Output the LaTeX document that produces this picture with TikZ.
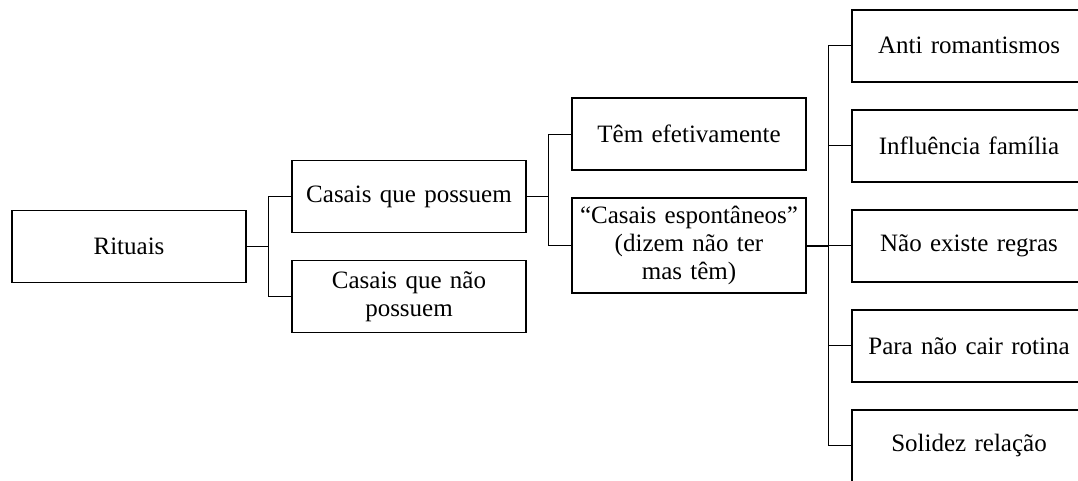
\documentclass[tikz,border=0pt]{standalone}
\usepackage{fontspec}
\setmainfont{Liberation Serif}
\usetikzlibrary{positioning}

\begin{document}
\begin{tikzpicture}[x=1pt,y=1pt,
	grow'=right,
	level/.style={level distance=280pt},
	level 1/.style={sibling distance=100pt},
	level 2/.style={sibling distance=111.5pt},
	level 3/.style={sibling distance=100pt},
	edge from parent/.style={draw,line width=1pt},
	edge from parent path={(\tikzparentnode.east) -- ++(22pt,0) |- (\tikzchildnode.west)},
	box/.style={draw,line width=1.9pt,minimum width=234pt,minimum height=72pt,text width=218pt,align=center,inner ysep=8pt,font=\fontsize{25}{28}\selectfont},
]
\useasboundingbox (0,-480) rectangle (1078,0);
\node[box] (rituais) at (129,-246.5) {Rituais}
	child{node[box] (possuem) {Casais que possuem}
		child[yshift=6.5pt]{node[box] (efetivamente) {Têm efetivamente}}
		child[yshift=6.5pt]{node[box] (espontaneos) {“Casais espontâneos”\\(dizem não ter\\mas têm)}
			child{node[box] (anti) {Anti romantismos}}
			child{node[box] (familia) {Influência família}}
			child{node[box] (regras) {Não existe regras}}
			child{node[box] (rotina) {Para não cair rotina}}
			child{node[box] (solidez) {Solidez relação}}
		}
	}
	child{node[box] (naopossuem) {Casais que não\\possuem}};
\foreach \p in {rituais,possuem,espontaneos}
	\draw[line width=1.7pt] (\p.east) -- ++(22pt,0);
\end{tikzpicture}
\end{document}
